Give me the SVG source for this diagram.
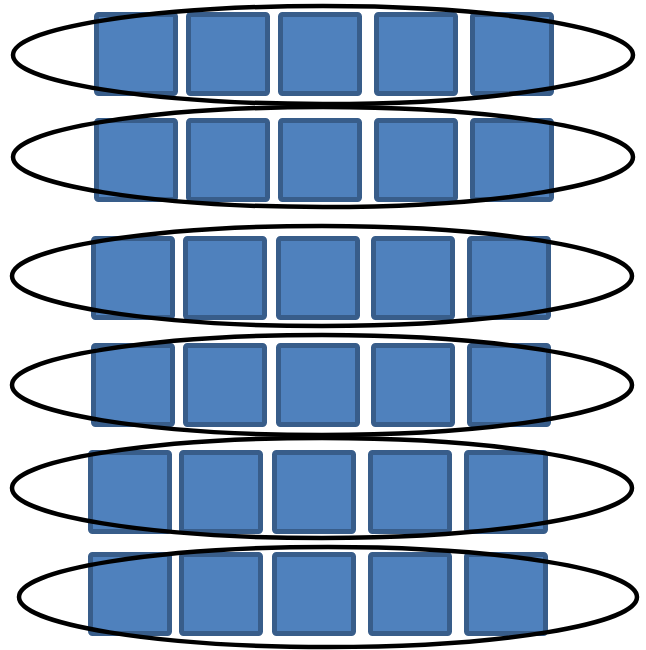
<svg xmlns="http://www.w3.org/2000/svg" xmlns:xlink="http://www.w3.org/1999/xlink" width="646" height="650" viewBox="0 0 646 650">
<style>
.sq{fill:#4F81BD;stroke:#385D8A;stroke-width:5}
.ring{fill:none;stroke:#000;stroke-width:4.5}
</style>
<defs>
<rect id="s" class="sq" x="2.5" y="2.5" width="79" height="79" rx="2"/>
</defs>
<rect width="646" height="650" fill="#fff"/>
<g id="squares">
<g id="row1">
<use id="r1c1" xlink:href="#s" x="94" y="12"/>
<use id="r1c2" xlink:href="#s" x="186" y="12"/>
<use id="r1c3" xlink:href="#s" x="278" y="12"/>
<use id="r1c4" xlink:href="#s" x="374" y="12"/>
<use id="r1c5" xlink:href="#s" x="470" y="12"/>
</g>
<g id="row2">
<use id="r2c1" xlink:href="#s" x="94" y="118"/>
<use id="r2c2" xlink:href="#s" x="186" y="118"/>
<use id="r2c3" xlink:href="#s" x="278" y="118"/>
<use id="r2c4" xlink:href="#s" x="374" y="118"/>
<use id="r2c5" xlink:href="#s" x="470" y="118"/>
</g>
<g id="row3">
<use id="r3c1" xlink:href="#s" x="91" y="236"/>
<use id="r3c2" xlink:href="#s" x="183" y="236"/>
<use id="r3c3" xlink:href="#s" x="276" y="236"/>
<use id="r3c4" xlink:href="#s" x="371" y="236"/>
<use id="r3c5" xlink:href="#s" x="467" y="236"/>
</g>
<g id="row4">
<use id="r4c1" xlink:href="#s" x="91" y="343"/>
<use id="r4c2" xlink:href="#s" x="183" y="343"/>
<use id="r4c3" xlink:href="#s" x="276" y="343"/>
<use id="r4c4" xlink:href="#s" x="371" y="343"/>
<use id="r4c5" xlink:href="#s" x="467" y="343"/>
</g>
<g id="row5">
<use id="r5c1" xlink:href="#s" x="88" y="450"/>
<use id="r5c2" xlink:href="#s" x="179" y="450"/>
<use id="r5c3" xlink:href="#s" x="272" y="450"/>
<use id="r5c4" xlink:href="#s" x="368" y="450"/>
<use id="r5c5" xlink:href="#s" x="464" y="450"/>
</g>
<g id="row6">
<use id="r6c1" xlink:href="#s" x="88" y="552"/>
<use id="r6c2" xlink:href="#s" x="179" y="552"/>
<use id="r6c3" xlink:href="#s" x="272" y="552"/>
<use id="r6c4" xlink:href="#s" x="368" y="552"/>
<use id="r6c5" xlink:href="#s" x="464" y="552"/>
</g>
</g>
<g id="rings">
<ellipse id="e1" class="ring" cx="323" cy="55" rx="310" ry="49"/>
<ellipse id="e2" class="ring" cx="323" cy="157" rx="310" ry="50"/>
<ellipse id="e3" class="ring" cx="322" cy="276" rx="310" ry="50"/>
<ellipse id="e4" class="ring" cx="322" cy="385" rx="310" ry="50"/>
<ellipse id="e5" class="ring" cx="322" cy="488" rx="310" ry="50"/>
<ellipse id="e6" class="ring" cx="328" cy="597" rx="309" ry="50"/>
</g>
</svg>
